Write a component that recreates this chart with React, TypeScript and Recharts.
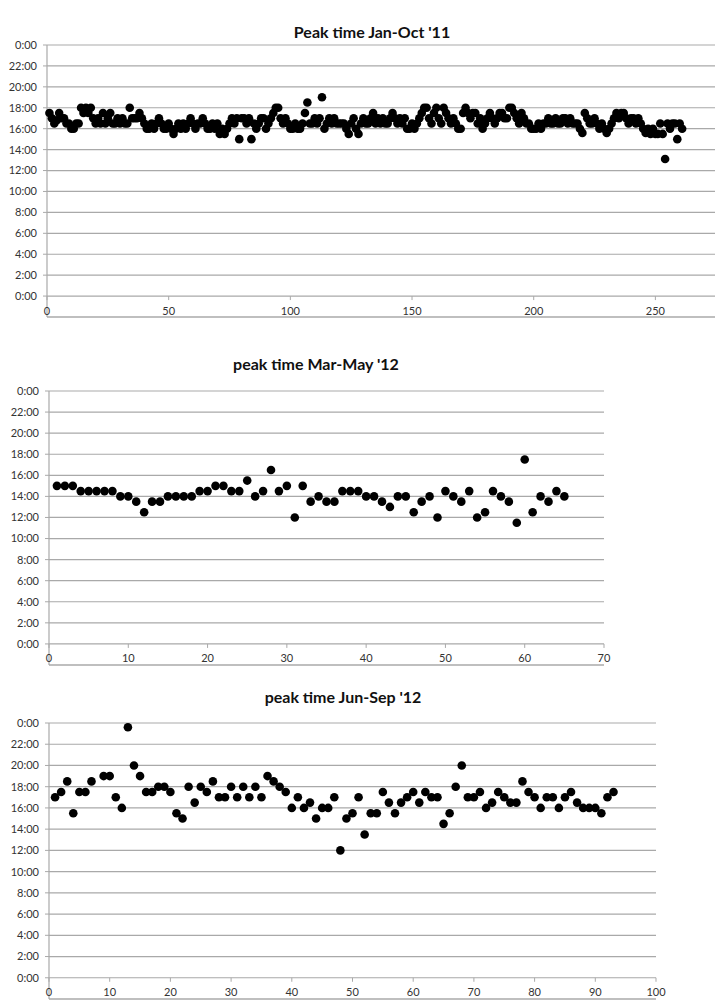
import React from 'react';
import { ScatterChart, Scatter, XAxis, YAxis, CartesianGrid } from 'recharts';

// peak time of day, in hours (17.5 = 17:30), one value per day
const janOct11 = [
  17.5, 17, 16.5, 16.8, 17.5, 17, 17, 16.5, 16.5, 16,
  16, 16.5, 16.5, 18, 17.5, 18, 17.5, 18, 17, 16.5,
  17, 16.5, 17.5, 16.5, 17, 17.5, 16.5, 16.5, 17, 16.5,
  17, 16.5, 16.5, 18, 17, 17, 17, 17.5, 17, 16.5,
  16, 16, 16.5, 16, 16.5, 17, 16.5, 16, 16, 16.5,
  16, 15.5, 16, 16.5, 16, 16.5, 16, 16.5, 17, 16.5,
  16, 16.5, 16.5, 17, 16.5, 16, 16, 16.5, 16, 16.5,
  15.5, 16, 15.5, 16, 16.5, 17, 16.5, 17, 15, 17,
  17, 16.5, 17, 15, 16.5, 16, 16.5, 17, 17, 16,
  16.5, 17, 17.5, 18, 18, 17, 16.5, 17, 16.5, 16,
  16, 16.5, 16, 16, 16.5, 17.5, 18.5, 16.5, 16.5, 17,
  16.5, 17, 19, 16, 16.5, 17, 16.5, 17, 16.5, 16.5,
  16.5, 16.5, 16, 15.5, 16.5, 17, 16, 15.5, 16.5, 17,
  16.5, 16.5, 17, 17.5, 16.5, 17, 16.5, 17, 16.5, 16.5,
  17, 17.5, 17, 16.5, 17, 16.5, 17, 16, 16, 16.5,
  16, 16.5, 17, 17.5, 18, 18, 17, 16.5, 17.5, 18,
  17, 16.5, 18, 17.5, 17, 16.5, 17, 16.5, 16, 16,
  17.5, 18, 17.5, 17, 17.5, 17.5, 16.5, 17, 16, 16.5,
  17, 17.5, 17, 16.5, 17, 17.5, 17.5, 17, 17, 18,
  18, 17.5, 17, 16.5, 17.5, 17, 16.5, 16.5, 16, 16,
  16, 16.5, 16, 16.5, 16.5, 17, 16.5, 16.5, 17, 16.5,
  16.5, 17, 17, 16.5, 17, 16.5, 16.5, 16.5, 16, 15.6,
  17.5, 17, 16.5, 16.5, 17, 16.5, 16, 16.5, 16, 15.6,
  16, 16.5, 17, 17.5, 17, 17.5, 17.5, 17, 16.5, 17,
  17, 16.5, 17, 16.5, 16, 15.6, 16, 15.5, 16, 15.5,
  15.5, 16.5, 15.5, 13.1, 16.5, 16, 16.5, 16.5, 15, 16.5, 16,
];

const marMay12 = [
  15, 15, 15, 14.5, 14.5, 14.5, 14.5, 14.5, 14, 14,
  13.5, 12.5, 13.5, 13.5, 14, 14, 14, 14, 14.5, 14.5,
  15, 15, 14.5, 14.5, 15.5, 14, 14.5, 16.5, 14.5, 15,
  12, 15, 13.5, 14, 13.5, 13.5, 14.5, 14.5, 14.5, 14,
  14, 13.5, 13, 14, 14, 12.5, 13.5, 14, 12, 14.5,
  14, 13.5, 14.5, 12, 12.5, 14.5, 14, 13.5, 11.5, 17.5,
  12.5, 14, 13.5, 14.5, 14,
];

// day 8 has no reading
const junSep12: (number | null)[] = [
  17, 17.5, 18.5, 15.5, 17.5, 17.5, 18.5, null, 19, 19,
  17, 16, 23.6, 20, 19, 17.5, 17.5, 18, 18, 17.5,
  15.5, 15, 18, 16.5, 18, 17.5, 18.5, 17, 17, 18,
  17, 18, 17, 18, 17, 19, 18.5, 18, 17.5, 16,
  17, 16, 16.5, 15, 16, 16, 17, 12, 15, 15.5,
  17, 13.5, 15.5, 15.5, 17.5, 16.5, 15.5, 16.5, 17, 17.5,
  16.5, 17.5, 17, 17, 14.5, 15.5, 18, 20, 17, 17,
  17.5, 16, 16.5, 17.5, 17, 16.5, 16.5, 18.5, 17.5, 17,
  16, 17, 17, 16, 17, 17.5, 16.5, 16, 16, 16,
  15.5, 17, 17.5,
];

const hourTicks = [0, 2, 4, 6, 8, 10, 12, 14, 16, 18, 20, 22, 24];
const ticksJanOct = [0, 50, 100, 150, 200, 250];
const ticksMarMay = [0, 10, 20, 30, 40, 50, 60, 70];
const ticksJunSep = [0, 10, 20, 30, 40, 50, 60, 70, 80, 90, 100];

const GRID = '#a9a9a9';
const TEXT = '#333';
const FONT = 'Lato, "Open Sans", sans-serif';
const PAD = 10;

const fmtHour = (h: number) => `${h % 24}:00`;

// x labels sit under the 0:00 line, the axis line runs one step lower
const XTick = ({ x, y, payload, step }: any) => {
  const base = y - step;
  return (
    <g>
      <line x1={x} x2={x} y1={base} y2={base + 4} stroke={GRID} />
      <text x={x} y={base + 14} textAnchor="middle" dominantBaseline="central" fontSize={11} fill={TEXT} fontFamily={FONT}>
        {payload.value}
      </text>
    </g>
  );
};

const Dot = (p: any) => <circle cx={p.cx} cy={p.cy} r={4.3} fill="#000" />;

interface PanelProps {
  title: string;
  titleX: number;
  titleY: number;
  values: (number | null)[];
  xTicks: number[];
  xMax: number;
  left: number;
  right: number;
  top: number;
  bottom: number;
}

const Panel: React.FC<PanelProps> = ({ title, titleX, titleY, values, xTicks, xMax, left, right, top, bottom }) => {
  const data = values
    .map((v, i) => ({ x: i + 1, y: v }))
    .filter((d) => d.y !== null);
  const plotH = bottom - top;
  const step = plotH / 13;
  return (
    <>
      <div
        style={{
          position: 'absolute',
          left: titleX,
          top: titleY - 10,
          transform: 'translateX(-50%)',
          fontFamily: FONT,
          fontWeight: 700,
          fontSize: 16,
          lineHeight: '20px',
          whiteSpace: 'nowrap',
          color: '#111',
        }}
      >
        {title}
      </div>
      <div style={{ position: 'absolute', left: 0, top: top - PAD }}>
        <ScatterChart
          width={right + PAD}
          height={plotH + PAD + 20}
          margin={{ top: PAD, right: PAD, bottom: 0, left: 0 }}
          style={{ overflow: 'visible' }}
        >
          <CartesianGrid vertical={false} stroke={GRID} strokeWidth={1.2} />
          <XAxis
            type="number"
            dataKey="x"
            domain={[0, xMax]}
            ticks={xTicks}
            interval={0}
            height={20}
            tickSize={0}
            tickMargin={0}
            axisLine={{ stroke: GRID, strokeWidth: 1.2 }}
            tick={(props: any) => <XTick {...props} step={step} />}
          />
          <YAxis
            type="number"
            dataKey="y"
            domain={[-2, 24]}
            ticks={hourTicks}
            interval={0}
            width={left}
            tickSize={4}
            tickMargin={6}
            tickFormatter={fmtHour}
            axisLine={{ stroke: GRID, strokeWidth: 1.2 }}
            tickLine={{ stroke: GRID }}
            tick={{ fontSize: 11, fill: TEXT, fontFamily: FONT }}
          />
          <Scatter data={data} shape={Dot} isAnimationActive={false} />
        </ScatterChart>
      </div>
    </>
  );
};

export default function App() {
  return (
    <div style={{ position: 'absolute', left: 0, top: 0, width: 715, height: 1001, background: '#fff', overflow: 'hidden' }}>
      <Panel
        title="Peak time Jan-Oct '11"
        titleX={372}
        titleY={32}
        values={janOct11}
        xTicks={ticksJanOct}
        xMax={274.5}
        left={47}
        right={715}
        top={45}
        bottom={317}
      />
      <Panel
        title="peak time Mar-May '12"
        titleX={316}
        titleY={364}
        values={marMay12}
        xTicks={ticksMarMay}
        xMax={70}
        left={49}
        right={604}
        top={391}
        bottom={665}
      />
      <Panel
        title="peak time Jun-Sep '12"
        titleX={343}
        titleY={697}
        values={junSep12}
        xTicks={ticksJunSep}
        xMax={100}
        left={49}
        right={656}
        top={723}
        bottom={999}
      />
    </div>
  );
}
